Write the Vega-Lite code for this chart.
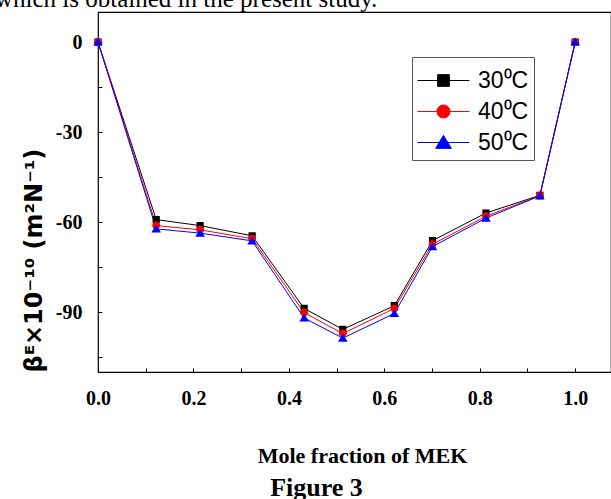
{
  "$schema": "https://vega.github.io/schema/vega-lite/v6.json",
  "width": 513,
  "height": 360,
  "autosize": {"type": "none"},
  "padding": {"left": 98, "top": 12, "right": 0, "bottom": 127},
  "background": "white",
  "config": {
    "view": {"stroke": "black", "strokeWidth": 1.2},
    "axis": {
      "grid": false,
      "domain": false,
      "tickColor": "black",
      "tickSize": -4,
      "tickWidth": 1,
      "labelColor": "black",
      "labelFont": "Liberation Serif",
      "labelFontWeight": "bold",
      "labelFontSize": 20,
      "titleColor": "black"
    },
    "legend": {
      "orient": "none",
      "legendX": 314,
      "legendY": 45,
      "padding": 5,
      "strokeColor": "#555555",
      "fillColor": "white",
      "symbolSize": 676,
      "symbolStrokeWidth": 1,
      "symbolOffset": 13,
      "labelOffset": 21,
      "rowPadding": 5,
      "labelFont": "Liberation Sans",
      "labelFontSize": 23,
      "labelColor": "black",
      "titleFontSize": 4,
      "titlePadding": 1
    }
  },
  "title": {
    "text": "which is obtained in the present study.",
    "anchor": "start",
    "frame": "group",
    "orient": "top",
    "font": "Liberation Serif",
    "fontSize": 25,
    "fontWeight": "normal",
    "color": "black",
    "baseline": "alphabetic",
    "offset": -20,
    "dx": -103
  },
  "data": {
    "values": [
      {"x": 0.0, "T": "30⁰C", "y": 0},
      {"x": 0.122, "T": "30⁰C", "y": -59.2},
      {"x": 0.214, "T": "30⁰C", "y": -61.2},
      {"x": 0.323, "T": "30⁰C", "y": -64.6},
      {"x": 0.432, "T": "30⁰C", "y": -88.8},
      {"x": 0.513, "T": "30⁰C", "y": -95.8},
      {"x": 0.621, "T": "30⁰C", "y": -87.9},
      {"x": 0.701, "T": "30⁰C", "y": -66.2},
      {"x": 0.813, "T": "30⁰C", "y": -57.0},
      {"x": 0.926, "T": "30⁰C", "y": -51.1},
      {"x": 1.0, "T": "30⁰C", "y": 0},
      {"x": 0.0, "T": "40⁰C", "y": 0},
      {"x": 0.122, "T": "40⁰C", "y": -61.2},
      {"x": 0.214, "T": "40⁰C", "y": -62.6},
      {"x": 0.323, "T": "40⁰C", "y": -65.6},
      {"x": 0.432, "T": "40⁰C", "y": -90.2},
      {"x": 0.513, "T": "40⁰C", "y": -97.2},
      {"x": 0.621, "T": "40⁰C", "y": -88.8},
      {"x": 0.701, "T": "40⁰C", "y": -67.4},
      {"x": 0.813, "T": "40⁰C", "y": -58.1},
      {"x": 0.926, "T": "40⁰C", "y": -51.2},
      {"x": 1.0, "T": "40⁰C", "y": 0},
      {"x": 0.0, "T": "50⁰C", "y": 0},
      {"x": 0.122, "T": "50⁰C", "y": -62.3},
      {"x": 0.214, "T": "50⁰C", "y": -63.7},
      {"x": 0.323, "T": "50⁰C", "y": -66.3},
      {"x": 0.432, "T": "50⁰C", "y": -92.0},
      {"x": 0.513, "T": "50⁰C", "y": -98.7},
      {"x": 0.621, "T": "50⁰C", "y": -90.5},
      {"x": 0.701, "T": "50⁰C", "y": -68.2},
      {"x": 0.813, "T": "50⁰C", "y": -58.7},
      {"x": 0.926, "T": "50⁰C", "y": -51.3},
      {"x": 1.0, "T": "50⁰C", "y": 0}
    ]
  },
  "layer": [
    {
      "mark": {"type": "line", "strokeWidth": 1},
      "encoding": {
        "x": {
          "field": "x",
          "type": "quantitative",
          "scale": {"domain": [0, 1.075], "nice": false, "zero": false},
          "axis": {
            "orient": "bottom",
            "values": [0, 0.1, 0.2, 0.3, 0.4, 0.5, 0.6, 0.7, 0.8, 0.9, 1.0],
            "labelExpr": "round(datum.value*10)%2==0 ? format(datum.value,'.1f') : ''",
            "labelPadding": 20,
            "labelFlush": false,
            "labelOverlap": false,
            "title": "Mole fraction of MEK",
            "titleFont": "Liberation Serif",
            "titleFontWeight": "bold",
            "titleFontSize": 22,
            "titleX": 264,
            "titleY": 90,
            "titleBaseline": "alphabetic"
          }
        },
        "y": {
          "field": "y",
          "type": "quantitative",
          "scale": {"domain": [-110, 10], "nice": false, "zero": false},
          "axis": {
            "values": [-105, -90, -75, -60, -45, -30, -15, 0],
            "labelExpr": "datum.value % 30 == 0 ? '' + datum.value : ''",
            "labelPadding": 20,
            "labelFlush": false,
            "labelOverlap": false,
            "title": "βᴱ×10⁻¹⁰ (m²N⁻¹)",
            "titleFont": "DejaVu Sans",
            "titleFontWeight": "bold",
            "titleFontSize": 24,
            "titleAngle": 270,
            "titleAnchor": "start",
            "titlePadding": 9
          }
        },
        "color": {
          "field": "T",
          "type": "nominal",
          "title": " ",
          "scale": {"domain": ["30⁰C", "40⁰C", "50⁰C"], "range": ["#000000", "#ff0000", "#0000ff"]}
        }
      }
    },
    {
      "mark": {"type": "point", "filled": true, "opacity": 1, "size": 256},
      "encoding": {
        "x": {
          "field": "x",
          "type": "quantitative",
          "axis": {
            "orient": "bottom",
            "labels": false,
            "ticks": false,
            "domain": false,
            "title": "Figure 3",
            "titleFont": "Liberation Serif",
            "titleFontWeight": "bold",
            "titleFontSize": 26,
            "titleX": 218,
            "titleY": 123,
            "titleBaseline": "alphabetic"
          }
        },
        "y": {"field": "y", "type": "quantitative"},
        "color": {"field": "T", "type": "nominal", "title": " "},
        "shape": {
          "field": "T",
          "type": "nominal",
          "title": " ",
          "scale": {
            "domain": ["30⁰C", "40⁰C", "50⁰C"],
            "range": [
              "M-2,0H2M-0.45,-0.45H0.45V0.45H-0.45Z",
              "M-2,0H2M0.5,0A0.5,0.5,0,1,1,-0.5,0A0.5,0.5,0,1,1,0.5,0Z",
              "M-2,0H2M0,-0.55L0.6,0.45H-0.6Z"
            ]
          }
        }
      }
    }
  ],
  "resolve": {"axis": {"x": "independent"}}
}
